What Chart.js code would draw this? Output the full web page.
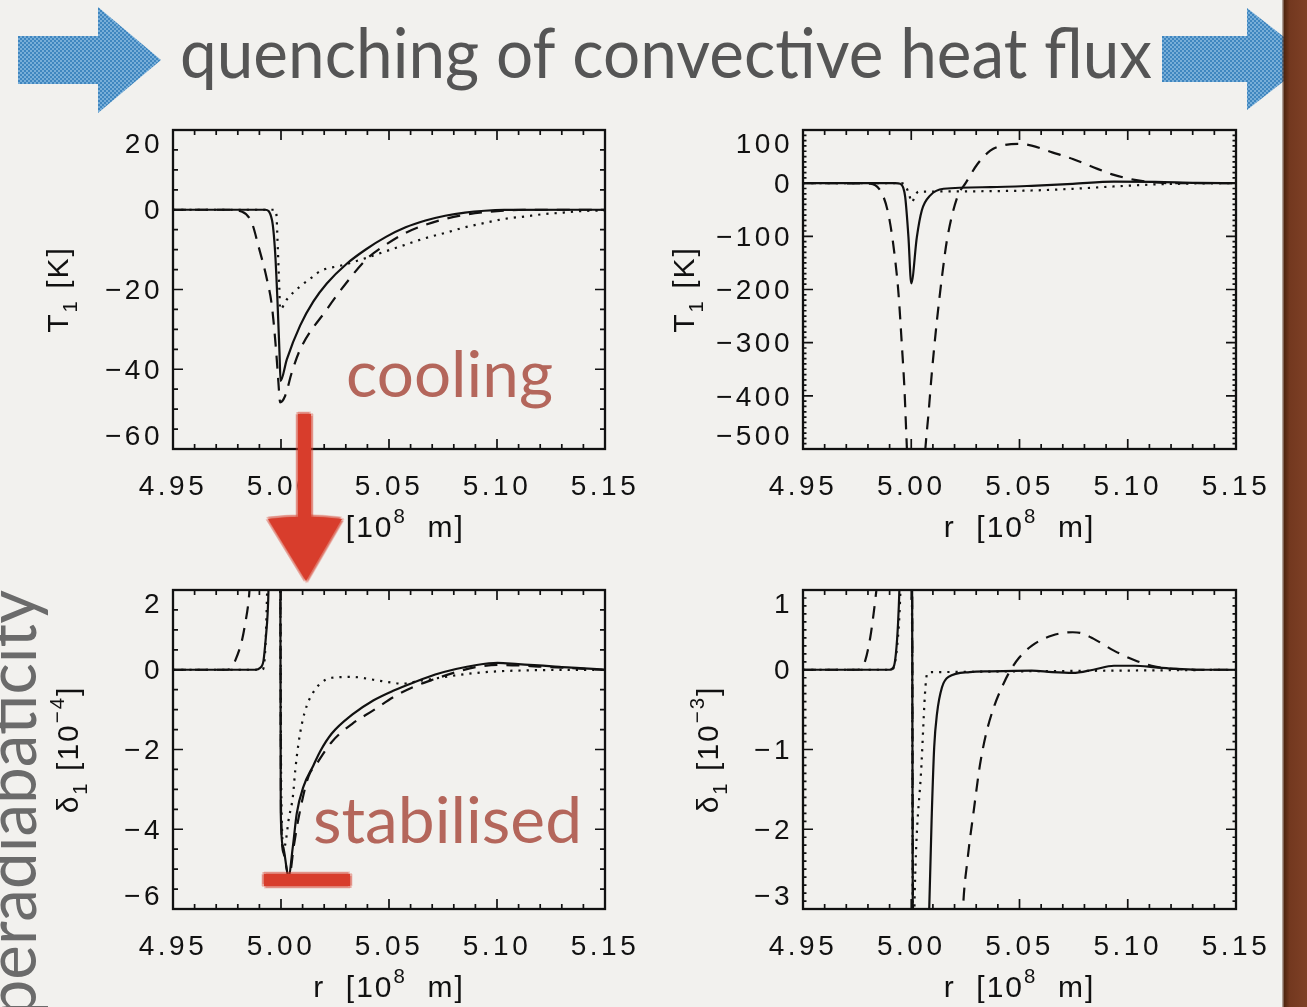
<!DOCTYPE html>
<html>
<head>
<meta charset="utf-8">
<script src="https://cdn.jsdelivr.net/npm/chart.js@4.4.1/dist/chart.umd.min.js"></script>
<style>
  html, body { margin: 0; padding: 0; }
  body { width: 1307px; height: 1007px; overflow: hidden; background: #f2f1ee; position: relative; }
  canvas { position: absolute; }
</style>
</head>
<body>
<canvas id="fundo" width="1307" height="1007" style="left:0;top:0"></canvas>
<canvas id="g1" width="630" height="460" style="left:20px;top:100px"></canvas>
<canvas id="g2" width="630" height="460" style="left:650px;top:100px"></canvas>
<canvas id="g3" width="630" height="460" style="left:20px;top:560px"></canvas>
<canvas id="g4" width="630" height="460" style="left:650px;top:560px"></canvas>
<canvas id="notas" width="1307" height="1007" style="left:0;top:0;pointer-events:none"></canvas>
<script>
// eixo radial comum (10^8 m)
const raioTicks = [4.95, 5.00, 5.05, 5.10, 5.15];

// T1 [K], painel superior esquerdo
const raioT1aCont = [4.95, 4.985, 4.9927, 4.9958, 4.9973, 4.9984, 4.9993, 4.9998, 5.0027, 5.0089, 5.015, 5.0212, 5.0303, 5.0394, 5.0486, 5.0577, 5.0669, 5.076, 5.0852, 5.0943, 5.1034, 5.15];
const t1aCont = [0, 0, 0, -2.5, -10.8, -23.3, -35.8, -42.9, -37.5, -29, -23, -18.5, -13.6, -9.9, -6.8, -4.4, -2.7, -1.5, -0.7, -0.25, -0.05, 0];
const raioT1aTrac = [4.95, 4.975, 4.982, 4.9865, 4.9896, 4.9935, 4.9958, 4.9978, 4.9988, 4.9996, 5.0019, 5.005, 5.0089, 5.0212, 5.0303, 5.0394, 5.0486, 5.0577, 5.0669, 5.076, 5.0852, 5.0943, 5.1034, 5.1125, 5.15];
const t1aTrac = [0, 0, -0.5, -3.3, -9.2, -17.5, -24.2, -35.8, -43.3, -48.3, -46.7, -40.8, -35, -25, -18.3, -12.5, -8.75, -5.8, -3.75, -2.3, -1.25, -0.6, -0.2, 0, 0];
const raioT1aPont = [4.95, 4.997, 4.9978, 4.9986, 4.9992, 4.9996, 5.0027, 5.0089, 5.015, 5.0181, 5.0285, 5.0394, 5.0486, 5.0577, 5.0669, 5.076, 5.0852, 5.0943, 5.1034, 5.1126, 5.1217, 5.1309, 5.14, 5.15];
const t1aPont = [0, 0, -0.8, -10.8, -19.2, -25, -22.5, -19.2, -16.7, -15.4, -13.9, -12.1, -10.4, -8.75, -7.1, -5.8, -4.4, -3.3, -2.3, -1.7, -1.1, -0.7, -0.3, -0.2];
const ticksT1a = [-60, -40, -20, 0, 20];

// T1 [K], painel superior direito
const raioT1bCont = [4.95, 4.9925, 4.9949, 4.9962, 4.9972, 4.9987, 5.0000, 5.0026, 5.0049, 5.0088, 5.0149, 5.0365, 5.0556, 5.0746, 5.0936, 5.1127, 5.1317, 5.15];
const t1bCont = [0, 0, -1.1, -7.5, -26, -101, -188.6, -101, -51, -23, -10.5, -7.5, -5, -1.3, 3, 2.6, 0.7, 0];
const raioT1bTrac = [4.95, 4.981, 4.9872, 4.9900, 4.9926, 4.9941, 4.9957, 4.9968, 4.9977, 4.9980, 5.0022, 5.0065, 5.0080, 5.0095, 5.0119, 5.0142, 5.0165, 5.0213, 5.0251, 5.0306, 5.0365, 5.0421, 5.0497, 5.0556, 5.0651, 5.0746, 5.0841, 5.0936, 5.1032, 5.1127, 5.1222, 5.15];
const t1bTrac = [0, -1, -26, -70, -145, -207, -307, -382, -470, -500, -760, -500, -432, -357, -257, -176, -107, -26, 0, 36, 61, 70.7, 73.8, 70.7, 58, 45.6, 30, 15.6, 6.3, 1.3, 0, 0];
const raioT1bPont = [4.95, 4.995, 4.9964, 4.9987, 5.0003, 5.0018, 5.0034, 5.0174, 5.0365, 5.0556, 5.0746, 5.0936, 5.1127, 5.1317, 5.15];
const t1bPont = [0, 0, -1, -17, -36, -23, -16, -15.6, -15, -13.8, -10.6, -6.2, -2.4, -0.6, 0];
const ticksT1b = [-500, -400, -300, -200, -100, 0, 100];

// delta1 [1e-4], painel inferior esquerdo
const raioD1aCont = [4.95, 4.988, 4.9904, 4.9919, 4.9930, 4.9938, 4.9942, 4.9968, 4.9997, 4.9999, 5.0009, 5.0035, 5.0055, 5.0073, 5.0104, 5.0150, 5.0181, 5.0235, 5.0331, 5.0427, 5.0522, 5.0618, 5.0714, 5.0810, 5.0906, 5.1002, 5.1098, 5.1193, 5.1289, 5.1385, 5.15];
const d1aCont = [0, 0, 0.05, 0.23, 0.82, 1.4, 2.0, 12, 2.0, -3.6, -4.43, -5.18, -4.43, -3.6, -2.93, -2.4, -2.05, -1.6, -1.12, -0.77, -0.52, -0.31, -0.12, 0.02, 0.12, 0.17, 0.14, 0.11, 0.07, 0.04, 0];
const raioD1aTrac = [4.95, 4.975, 4.9765, 4.9788, 4.9819, 4.9834, 4.9850, 4.9854, 4.9920, 4.9997, 5.0000, 5.0012, 5.0037, 5.0060, 5.0082, 5.0127, 5.0166, 5.0235, 5.0331, 5.0427, 5.0522, 5.0618, 5.0714, 5.0810, 5.0906, 5.1002, 5.1098, 5.1193, 5.1385, 5.15];
const d1aTrac = [0, 0, 0.03, 0.23, 0.73, 1.15, 1.73, 2.0, 10, 2.0, -3.5, -4.6, -5.2, -4.4, -3.7, -2.68, -2.35, -1.81, -1.35, -1.02, -0.68, -0.42, -0.23, -0.06, 0.07, 0.12, 0.11, 0.08, 0.03, 0];
const raioD1aPont = [4.95, 4.9915, 4.9928, 4.9936, 4.9965, 4.9997, 5.0001, 5.0013, 5.0023, 5.0035, 5.0055, 5.0066, 5.0081, 5.0097, 5.0120, 5.0150, 5.0181, 5.0235, 5.0331, 5.0427, 5.0522, 5.0561, 5.0618, 5.0714, 5.0810, 5.0906, 5.1002, 5.1193, 5.15];
const d1aPont = [0, 0, 0.6, 2.0, 9, 2.0, -3.0, -4.5, -4.27, -3.77, -3.18, -2.52, -1.85, -1.35, -0.89, -0.56, -0.35, -0.2, -0.18, -0.25, -0.33, -0.35, -0.3, -0.22, -0.14, -0.08, -0.04, -0.01, 0];
const ticksD1a = [-6, -4, -2, 0, 2];

// delta1 [1e-3], painel inferior direito
const raioD1bCont = [4.95, 4.990, 4.9918, 4.9929, 4.9939, 4.9945, 4.9975, 5.0004, 5.0007, 5.0045, 5.0083, 5.0095, 5.0106, 5.0119, 5.0142, 5.0172, 5.0270, 5.0365, 5.0556, 5.0651, 5.0746, 5.0841, 5.0936, 5.1032, 5.1127, 5.1222, 5.1317, 5.15];
const d1bCont = [0, 0, 0.03, 0.2, 0.58, 0.99, 5, 1.0, -3.0, -9, -3.0, -1.8, -0.97, -0.55, -0.22, -0.09, -0.03, -0.02, -0.01, -0.03, -0.04, 0.0, 0.05, 0.05, 0.03, 0.01, 0, 0];
const raioD1bTrac = [4.95, 4.975, 4.9765, 4.9788, 4.9811, 4.9826, 4.9837, 4.9839, 4.9920, 5.0004, 5.0008, 5.0120, 5.0239, 5.0260, 5.0289, 5.0317, 5.0346, 5.0384, 5.0422, 5.0451, 5.0498, 5.0556, 5.0651, 5.0746, 5.0784, 5.0841, 5.0936, 5.1032, 5.1127, 5.1222, 5.1317, 5.15];
const d1bTrac = [0, 0, 0.01, 0.12, 0.41, 0.7, 0.95, 1.0, 6, 1.0, -3.0, -12, -3.0, -2.38, -1.76, -1.2, -0.8, -0.45, -0.2, -0.04, 0.15, 0.3, 0.43, 0.47, 0.46, 0.39, 0.24, 0.12, 0.04, 0.01, 0, 0];
const raioD1bPont = [4.95, 4.991, 4.9935, 4.9950, 4.9975, 5.0003, 5.0007, 5.0011, 5.0016, 5.0047, 5.0066, 5.0075, 5.0100, 5.0500, 5.1000, 5.15];
const d1bPont = [0, 0, 0.3, 1.0, 4, 1.0, -3.0, -3.6, -2.8, -1.2, -0.2, -0.04, -0.03, -0.02, -0.01, 0];
const ticksD1b = [-3, -2, -1, 0, 1];

const fonteTicks = '"Liberation Sans", Arial, sans-serif';
const tituloX = [['r  [10'], ['8', 'sup'], ['  m]']];

const paineis = [
  { canvas: 'g1', yMin: -60, yMax: 20, ticks: ticksT1a, menor: 5, curto: 5, direita: 45, gap: 116,
    titulo: [['T'], ['1', 'sub'], [' [K]']],
    series: [[raioT1aPont, t1aPont], [raioT1aTrac, t1aTrac], [raioT1aCont, t1aCont]] },
  { canvas: 'g2', yMin: -500, yMax: 100, ticks: ticksT1b, menor: 10, curto: 3.5, direita: 44, gap: 120,
    titulo: [['T'], ['1', 'sub'], [' [K]']],
    series: [[raioT1bPont, t1bPont], [raioT1bTrac, t1bTrac], [raioT1bCont, t1bCont]] },
  { canvas: 'g3', yMin: -6, yMax: 2, ticks: ticksD1a, menor: 0.5, curto: 5, direita: 45, gap: 106,
    titulo: [['\u03b4'], ['1', 'sub'], [' [10'], ['\u22124', 'sup'], [']']],
    series: [[raioD1aPont, d1aPont], [raioD1aTrac, d1aTrac], [raioD1aCont, d1aCont]] },
  { canvas: 'g4', yMin: -3, yMax: 1, ticks: ticksD1b, menor: 0.1, curto: 3.5, direita: 44, gap: 96,
    titulo: [['\u03b4'], ['1', 'sub'], [' [10'], ['\u22123', 'sup'], [']']],
    series: [[raioD1bPont, d1bPont], [raioD1bTrac, d1bTrac], [raioD1bCont, d1bCont]] }
];

// pontilhada, tracejada, contínua
const tracos = [[2.2, 6], [13, 9], []];

function medirRico(ctx, partes, tam) {
  let w = 0;
  for (const [t, tipo] of partes) {
    ctx.font = (tipo ? tam * 0.68 : tam) + 'px ' + fonteTicks;
    w += ctx.measureText(t).width;
  }
  return w;
}

function pintarRico(ctx, partes, tam, x0, y0) {
  let x = x0;
  for (const [t, tipo] of partes) {
    ctx.font = (tipo ? tam * 0.68 : tam) + 'px ' + fonteTicks;
    const dy = tipo === 'sub' ? tam * 0.3 : tipo === 'sup' ? -tam * 0.45 : 0;
    ctx.fillText(t, x, y0 + dy);
    x += ctx.measureText(t).width;
  }
}

// moldura com marcas para dentro nos quatro lados + títulos dos eixos
const quadroIDL = {
  id: 'quadroIDL',
  beforeUpdate(chart) { chart.ctx.letterSpacing = '3.5px'; },
  beforeDraw(chart) { chart.ctx.letterSpacing = '3.5px'; },
  afterDraw(chart, args, o) {
    const { ctx, chartArea: a, scales: { x, y } } = chart;
    ctx.save();
    ctx.strokeStyle = '#111';
    ctx.lineWidth = 1.7;
    ctx.beginPath();
    const nx = Math.round((x.max - x.min) / 0.01);
    for (let i = 0; i <= nx; i++) {
      const v = x.min + i * 0.01;
      const px = x.getPixelForValue(v);
      const len = raioTicks.some(t => Math.abs(t - v) < 1e-6) ? 10 : 5;
      ctx.moveTo(px, a.bottom); ctx.lineTo(px, a.bottom - len);
      ctx.moveTo(px, a.top); ctx.lineTo(px, a.top + len);
    }
    const ny = Math.round((y.max - y.min) / o.menor);
    for (let i = 0; i <= ny; i++) {
      const v = y.min + i * o.menor;
      const py = y.getPixelForValue(v);
      const len = o.ticks.some(t => Math.abs(t - v) < o.menor / 10) ? 10 : o.curto;
      ctx.moveTo(a.left, py); ctx.lineTo(a.left + len, py);
      ctx.moveTo(a.right, py); ctx.lineTo(a.right - len, py);
    }
    ctx.stroke();
    ctx.lineWidth = 2.3;
    ctx.strokeRect(a.left, a.top, a.right - a.left, a.bottom - a.top);

    ctx.fillStyle = '#111';
    ctx.letterSpacing = '2px';
    ctx.textAlign = 'left';
    ctx.textBaseline = 'alphabetic';
    const tam = 30;
    const wx = medirRico(ctx, tituloX, tam);
    pintarRico(ctx, tituloX, tam, (a.left + a.right) / 2 - wx / 2, a.bottom + 77 + tam * 0.36);
    ctx.translate(a.left - o.gap, (a.top + a.bottom) / 2);
    ctx.rotate(-Math.PI / 2);
    const wy = medirRico(ctx, o.titulo, tam);
    pintarRico(ctx, o.titulo, tam, -wy / 2, tam * 0.36);
    ctx.restore();
  }
};

function etiquetaY(v, i, ticks) {
  const s = v < 0 ? '\u2212' + Math.abs(v) : String(v);
  if (i === 0) return [s, ''];
  if (i === ticks.length - 1) return ['', s];
  return s;
}

function criarGrafico(p) {
  new Chart(document.getElementById(p.canvas), {
    type: 'scatter',
    data: {
      datasets: p.series.map(([r, v], k) => ({
        data: r.map((x, i) => ({ x: x, y: v[i] })),
        showLine: true,
        borderColor: '#111',
        borderWidth: 2.2,
        borderDash: tracos[k],
        pointRadius: 0,
        cubicInterpolationMode: 'monotone',
        fill: false
      }))
    },
    options: {
      responsive: false,
      animation: false,
      events: [],
      layout: { padding: { top: 30, right: p.direita, left: 0, bottom: 0 } },
      plugins: {
        legend: { display: false },
        tooltip: { enabled: false },
        quadroIDL: { ticks: p.ticks, menor: p.menor, curto: p.curto, gap: p.gap, titulo: p.titulo }
      },
      scales: {
        x: {
          type: 'linear', min: 4.95, max: 5.15,
          grid: { display: false, drawTicks: false }, border: { display: false },
          afterBuildTicks: s => { s.ticks = raioTicks.map(v => ({ value: v })); },
          afterFit: s => { s.height = 111; s.paddingLeft = 0; s.paddingRight = 0; },
          ticks: { font: { family: fonteTicks, size: 28, lineHeight: 1 }, color: '#111', padding: 24,
                   maxRotation: 0, autoSkip: false, callback: v => v.toFixed(2) }
        },
        y: {
          type: 'linear', min: p.yMin, max: p.yMax,
          grid: { display: false, drawTicks: false }, border: { display: false },
          afterBuildTicks: s => { s.ticks = p.ticks.map(v => ({ value: v })); },
          afterFit: s => { s.width = 153; s.paddingTop = 0; s.paddingBottom = 0; },
          ticks: { font: { family: fonteTicks, size: 28, lineHeight: 0.95 }, color: '#111', padding: 10,
                   labelOffset: 2, autoSkip: false, callback: etiquetaY }
        }
      }
    },
    plugins: [quadroIDL]
  });
}

paineis.forEach(criarGrafico);

// fundo do slide: título, setas azuis, faixa de madeira e texto vertical
const fundo = document.getElementById('fundo').getContext('2d');
fundo.fillStyle = '#f2f1ee';
fundo.fillRect(0, 0, 1307, 1007);

function padraoAzul(ctx) {
  const c = document.createElement('canvas');
  c.width = 4; c.height = 4;
  const g = c.getContext('2d');
  g.fillStyle = '#3f86bf'; g.fillRect(0, 0, 4, 4);
  g.fillStyle = '#78aed8'; g.fillRect(0, 0, 2, 2); g.fillRect(2, 2, 2, 2);
  return ctx.createPattern(c, 'repeat');
}

function seta(ctx, x0, xc, xp, yc, meiaHaste, meiaCabeca) {
  ctx.beginPath();
  ctx.moveTo(x0, yc - meiaHaste);
  ctx.lineTo(xc, yc - meiaHaste);
  ctx.lineTo(xc, yc - meiaCabeca);
  ctx.lineTo(xp, yc);
  ctx.lineTo(xc, yc + meiaCabeca);
  ctx.lineTo(xc, yc + meiaHaste);
  ctx.lineTo(x0, yc + meiaHaste);
  ctx.closePath();
  ctx.fill();
}

fundo.fillStyle = padraoAzul(fundo);
seta(fundo, 18, 98, 161, 60, 24, 53);
seta(fundo, 1162, 1247, 1312, 59, 23, 51);

fundo.fillStyle = '#555555';
fundo.font = '70px Lato';
fundo.textBaseline = 'alphabetic';
const titulo = 'quenching of convective heat flux';
const escalaTitulo = 972 / fundo.measureText(titulo).width;
fundo.save();
fundo.translate(180, 78);
fundo.scale(escalaTitulo, 1);
fundo.fillText(titulo, 0, 0);
fundo.restore();

fundo.fillStyle = '#6b6b6b';
fundo.save();
fundo.translate(36, 590);
fundo.rotate(-Math.PI / 2);
fundo.scale(escalaTitulo, 1);
fundo.textAlign = 'right';
fundo.fillText('superadiabaticity', 0, 0);
fundo.restore();

const madeira = fundo.createLinearGradient(1282, 0, 1307, 0);
madeira.addColorStop(0, 'rgba(70,35,18,0.25)');
madeira.addColorStop(0.1, '#52260f');
madeira.addColorStop(0.3, '#73381f');
madeira.addColorStop(1, '#7e4026');
fundo.fillStyle = madeira;
fundo.fillRect(1282, 0, 25, 1007);

// anotações por cima dos gráficos
const notas = document.getElementById('notas').getContext('2d');

function textoAjustado(ctx, texto, x, y, largura) {
  ctx.font = '64px Lato';
  const s = largura / ctx.measureText(texto).width;
  ctx.save();
  ctx.translate(x, y);
  ctx.scale(s, 1);
  ctx.fillText(texto, 0, 0);
  ctx.restore();
}

notas.fillStyle = '#b4665b';
textoAjustado(notas, 'cooling', 346, 397, 207);
textoAjustado(notas, 'stabilised', 313, 843, 269);

// marca vermelha feita à mão: várias passagens deslocadas dão a borda áspera
const desvios = [[-2, 1], [2, -1], [1, 2], [-1, -2], [2, 2], [-2, -2], [0, 2.5], [2.5, 0], [-2.5, 0], [0, -2.5]];
function marcaVermelha(ctx, caminho) {
  ctx.save();
  ctx.fillStyle = 'rgba(214,58,40,0.22)';
  for (const [dx, dy] of desvios) {
    ctx.save();
    ctx.translate(dx, dy);
    ctx.beginPath(); caminho(ctx); ctx.fill();
    ctx.restore();
  }
  ctx.fillStyle = '#d83d2c';
  ctx.beginPath(); caminho(ctx); ctx.fill();
  ctx.restore();
}

marcaVermelha(notas, c => {
  c.rect(298, 414, 13, 108);
  c.moveTo(268, 519);
  c.quadraticCurveTo(305, 514, 342, 519);
  c.lineTo(306, 581);
  c.closePath();
});
marcaVermelha(notas, c => { c.rect(264, 874, 86, 12); });
</script>
</body>
</html>
